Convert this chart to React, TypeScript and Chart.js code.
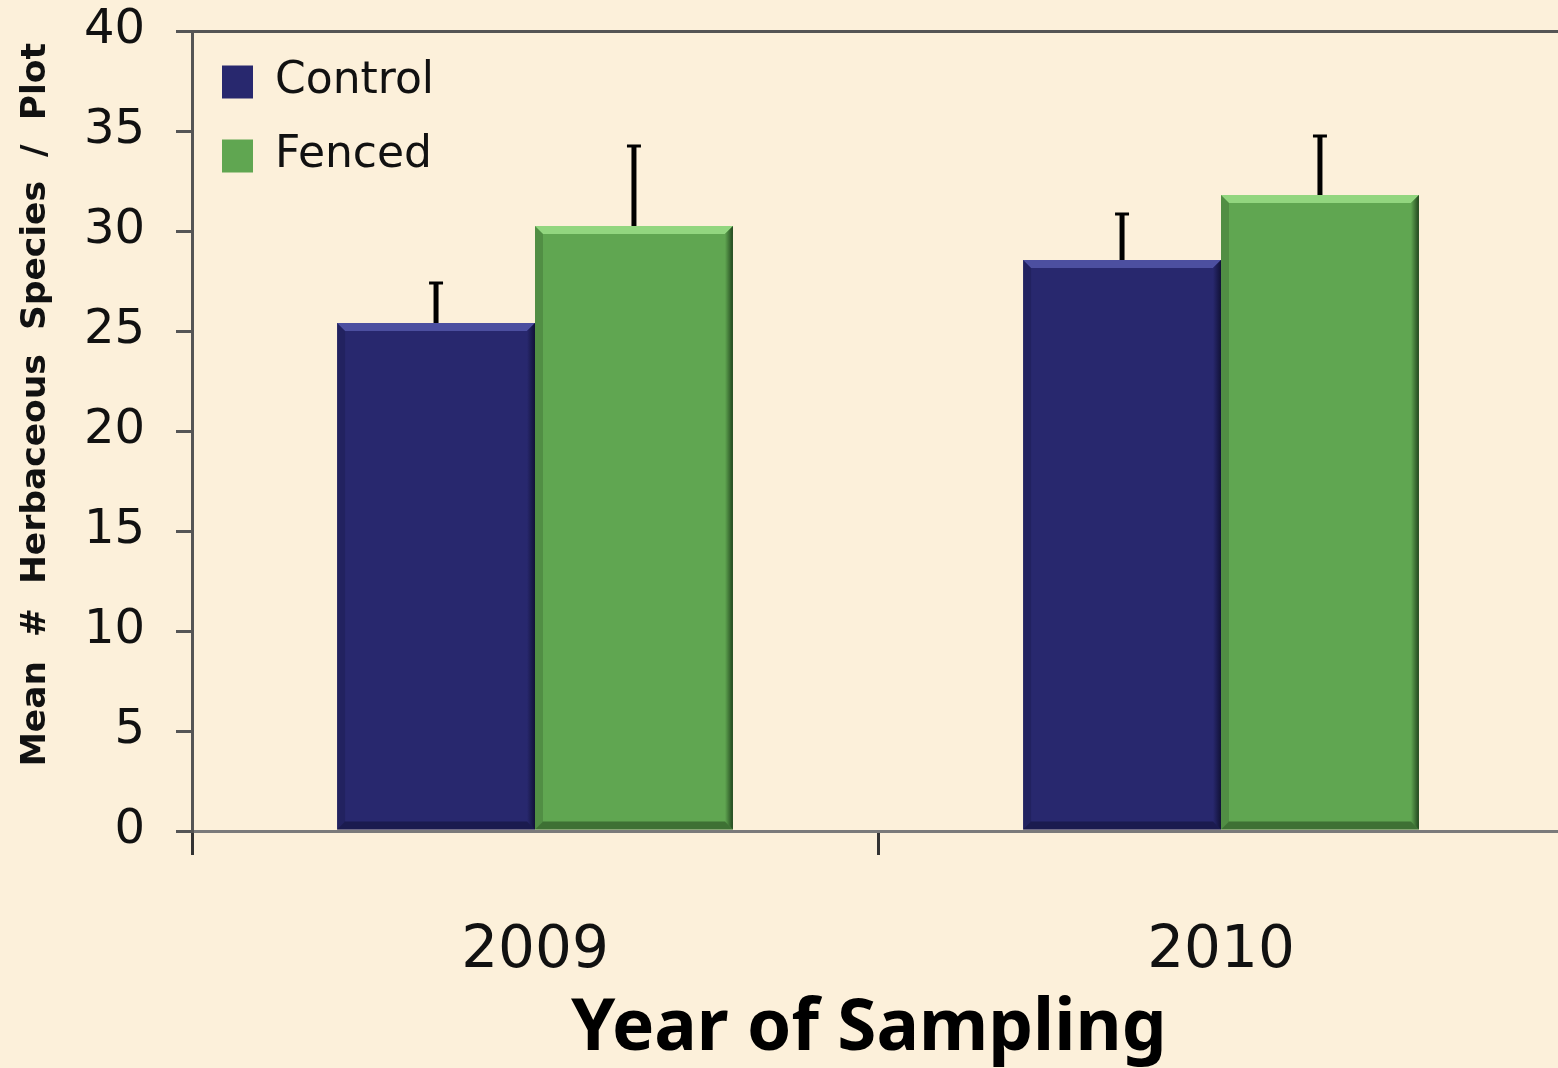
import React, { useEffect, useRef } from 'react';
import { Chart, registerables } from 'chart.js';

Chart.register(...registerables);

const years = ['2009', '2010'];
const seriesNames = ['Control', 'Fenced'];
const controlMeans = [25.4, 28.55];
const fencedMeans = [30.25, 31.8];
const controlErr = [2.05, 2.35];
const fencedErr = [4.05, 3.0];
const yMin = 0;
const yMax = 40;
const yStep = 5;
const xTitle = 'Year of Sampling ';
const yTitle = 'Mean  #  Herbaceous  Species  /  Plot ';

const seriesColors = ['#28286E', '#60A651'];
const seriesLight = ['#4C4FA0', '#92D67F'];
const seriesDark = ['#111136', '#22461E'];
const bgColor = '#FCF0DA';

const backgroundPlugin = {
  id: 'bgFill',
  beforeDraw(chart: any) {
    const { ctx, width, height } = chart;
    ctx.save();
    ctx.fillStyle = bgColor;
    ctx.fillRect(0, 0, width, height);
    ctx.restore();
  },
};

const bevelPlugin = {
  id: 'bevel',
  afterDatasetsDraw(chart: any) {
    const { ctx } = chart;
    chart.data.datasets.forEach((ds: any, i: number) => {
      const meta = chart.getDatasetMeta(i);
      meta.data.forEach((bar: any) => {
        const w = bar.width;
        const l = bar.x - w / 2;
        const r = bar.x + w / 2;
        const t = bar.y;
        const b = bar.base;
        const s = 8;
        ctx.save();
        ctx.fillStyle = seriesLight[i];
        ctx.beginPath();
        ctx.moveTo(l, t);
        ctx.lineTo(r, t);
        ctx.lineTo(r - s, t + s);
        ctx.lineTo(l + s, t + s);
        ctx.closePath();
        ctx.fill();
        const g = ctx.createLinearGradient(r - s, 0, r, 0);
        g.addColorStop(0, seriesColors[i]);
        g.addColorStop(1, seriesDark[i]);
        ctx.fillStyle = g;
        ctx.beginPath();
        ctx.moveTo(r, t);
        ctx.lineTo(r, b);
        ctx.lineTo(r - s, b - s);
        ctx.lineTo(r - s, t + s);
        ctx.closePath();
        ctx.fill();
        ctx.globalAlpha = 0.55;
        ctx.fillStyle = seriesDark[i];
        ctx.beginPath();
        ctx.moveTo(l, b);
        ctx.lineTo(r, b);
        ctx.lineTo(r - s, b - s);
        ctx.lineTo(l + s, b - s);
        ctx.closePath();
        ctx.fill();
        ctx.globalAlpha = 0.25;
        ctx.beginPath();
        ctx.moveTo(l, t);
        ctx.lineTo(l + s, t + s);
        ctx.lineTo(l + s, b - s);
        ctx.lineTo(l, b);
        ctx.closePath();
        ctx.fill();
        ctx.restore();
      });
    });
  },
};

const errorBarPlugin = {
  id: 'errorBars',
  afterDatasetsDraw(chart: any) {
    const { ctx } = chart;
    const yScale = chart.scales.y;
    chart.data.datasets.forEach((ds: any, i: number) => {
      const meta = chart.getDatasetMeta(i);
      meta.data.forEach((bar: any, j: number) => {
        const v = ds.data[j];
        const e = ds.errors[j];
        const yTop = yScale.getPixelForValue(v + e);
        ctx.save();
        ctx.strokeStyle = '#000';
        ctx.lineWidth = 5;
        ctx.beginPath();
        ctx.moveTo(bar.x, bar.y);
        ctx.lineTo(bar.x, yTop);
        ctx.stroke();
        ctx.lineWidth = 3;
        ctx.beginPath();
        ctx.moveTo(bar.x - 7, yTop + 1);
        ctx.lineTo(bar.x + 7, yTop + 1);
        ctx.stroke();
        ctx.restore();
      });
    });
  },
};

export default function App() {
  const canvasRef = useRef<HTMLCanvasElement | null>(null);

  useEffect(() => {
    const canvas = canvasRef.current;
    if (!canvas) return;
    const chart = new Chart(canvas, {
      type: 'bar',
      data: {
        labels: years,
        datasets: [
          {
            label: seriesNames[0],
            data: controlMeans,
            errors: controlErr,
            backgroundColor: seriesColors[0],
            borderWidth: 0,
          } as any,
          {
            label: seriesNames[1],
            data: fencedMeans,
            errors: fencedErr,
            backgroundColor: seriesColors[1],
            borderWidth: 0,
          } as any,
        ],
      },
      options: {
        responsive: false,
        animation: false,
        devicePixelRatio: 1,
        layout: { padding: { top: 31, right: 0, bottom: 0, left: 0 } },
        datasets: {
          bar: { categoryPercentage: 0.577, barPercentage: 1 },
        },
        plugins: {
          legend: {
            position: 'chartArea' as any,
            align: 'start',
            fullSize: false,
            title: {
              display: true,
              text: ' ',
              font: { size: 10 },
              padding: { top: 9, bottom: 9 },
            },
            labels: {
              boxWidth: 31,
              boxHeight: 33,
              padding: 30,
              color: '#111',
              font: { family: 'DejaVu Sans', size: 44 },
            },
          },
          tooltip: { enabled: false },
        },
        scales: {
          x: {
            type: 'category',
            afterFit(scale: any) {
              scale.height = 237;
            },
            grid: {
              offset: true,
              drawOnChartArea: false,
              drawTicks: true,
              tickLength: 24,
              tickColor: '#333',
              tickWidth: 3,
            },
            border: { display: true, color: '#7A7A7A', width: 3 },
            ticks: {
              color: '#111',
              padding: 62,
              font: { family: 'DejaVu Sans', size: 58 },
            },
            title: {
              display: true,
              text: xTitle,
              color: '#000',
              font: { family: 'Noto Sans', size: 71, weight: 'bold' },
              padding: { top: 0, bottom: -4 },
            },
          },
          y: {
            min: yMin,
            max: yMax,
            afterFit(scale: any) {
              scale.width = 192;
              scale.paddingTop = 0;
              scale.paddingBottom = 0;
            },
            grid: {
              drawOnChartArea: true,
              drawTicks: true,
              tickLength: 16,
              tickColor: '#555',
              tickWidth: 3,
              lineWidth: 3,
              color: (c: any) => (c.tick && c.tick.value === yMax ? '#555' : 'rgba(0,0,0,0)'),
            },
            border: { display: true, color: '#555', width: 3 },
            ticks: {
              stepSize: yStep,
              color: '#111',
              padding: 31,
              font: { family: 'DejaVu Sans', size: 48 },
            },
            title: {
              display: true,
              text: yTitle,
              align: 'end',
              color: '#111',
              font: { family: 'DejaVu Sans', size: 34.5, weight: 'bold' },
              padding: { top: 15, bottom: 0 },
            },
          },
        },
      } as any,
      plugins: [backgroundPlugin, bevelPlugin, errorBarPlugin],
    });
    return () => chart.destroy();
  }, []);

  return (
    <div
      style={{
        position: 'fixed',
        left: 0,
        top: 0,
        width: 1558,
        height: 1068,
        overflow: 'hidden',
        background: bgColor,
      }}
    >
      <canvas ref={canvasRef} width={1564} height={1068} style={{ display: 'block' }} />
    </div>
  );
}
